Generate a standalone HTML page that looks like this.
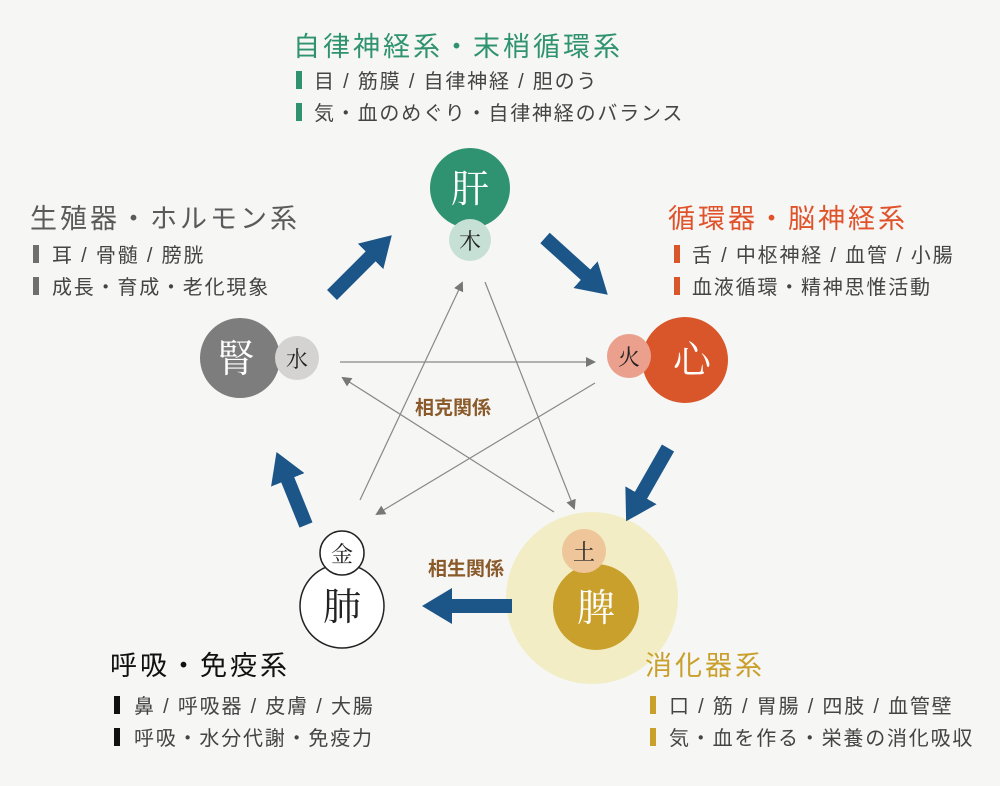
<!DOCTYPE html>
<html><head><meta charset="utf-8"><style>
html,body{margin:0;padding:0;background:#f6f6f5;}
svg{display:block;font-family:"Liberation Sans","Noto Sans CJK JP",sans-serif;}
.t{font-size:27px;letter-spacing:3px;}
.l{font-size:20px;letter-spacing:1.8px;fill:#444;}
</style></head><body>
<svg width="1000" height="786" viewBox="0 0 1000 786" xmlns="http://www.w3.org/2000/svg">
<defs>
<marker id="g" markerWidth="10" markerHeight="10" refX="8" refY="5" orient="auto" markerUnits="userSpaceOnUse"><path d="M0,0 L10,5 L0,10 z" fill="#777"/></marker>
<marker id="b" markerWidth="30" markerHeight="36" refX="2" refY="18" orient="auto" markerUnits="userSpaceOnUse"><path d="M0,0 L30,18 L0,36 z" fill="#1c5587"/></marker>
</defs>
<rect width="1000" height="786" fill="#f6f6f5"/>
<circle cx="592" cy="598" r="86" fill="#f2edc4"/>
<g stroke="#888" stroke-width="1.2" fill="none">
<line x1="485" y1="282" x2="574" y2="508" marker-end="url(#g)"/>
<line x1="360" y1="500" x2="462" y2="283" marker-end="url(#g)"/>
<line x1="340" y1="362" x2="594" y2="362" marker-end="url(#g)"/>
<line x1="595" y1="383" x2="377" y2="514" marker-end="url(#g)"/>
<line x1="554" y1="512" x2="343" y2="378" marker-end="url(#g)"/>
</g>
<g stroke="#1c5587" stroke-width="14" fill="none">
<line x1="332" y1="295" x2="372" y2="255" marker-end="url(#b)"/>
<line x1="545" y1="238" x2="587" y2="276" marker-end="url(#b)"/>
<line x1="668" y1="448" x2="640" y2="497" marker-end="url(#b)"/>
<line x1="512" y1="606" x2="450" y2="606" marker-end="url(#b)"/>
<line x1="306" y1="525" x2="287" y2="478" marker-end="url(#b)"/>
</g>
<circle cx="470" cy="188" r="40" fill="#2f9270"/>
<circle cx="470" cy="240" r="21" fill="#c7e0d6"/>
<text x="470" y="202" font-size="38" fill="#fff" text-anchor="middle" font-family="Noto Serif CJK SC,serif">肝</text>
<text x="470" y="249" font-size="22" fill="#222" text-anchor="middle" font-family="Noto Serif CJK SC,serif">木</text>
<circle cx="240" cy="358" r="40" fill="#7d7d7d"/>
<circle cx="297" cy="358" r="22" fill="#d4d3d2"/>
<text x="236" y="372" font-size="38" fill="#fff" text-anchor="middle" font-family="Noto Serif CJK SC,serif">腎</text>
<text x="297" y="367" font-size="22" fill="#222" text-anchor="middle" font-family="Noto Serif CJK SC,serif">水</text>
<circle cx="685" cy="360" r="43" fill="#d9562a"/>
<circle cx="629" cy="356" r="22" fill="#eba08e"/>
<text x="692" y="373" font-size="38" fill="#fff" text-anchor="middle" font-family="Noto Serif CJK SC,serif">心</text>
<text x="629" y="365" font-size="22" fill="#222" text-anchor="middle" font-family="Noto Serif CJK SC,serif">火</text>
<circle cx="596" cy="607" r="43" fill="#c9a02c"/>
<circle cx="584" cy="551" r="22" fill="#efc59a"/>
<text x="596" y="621" font-size="38" fill="#fff" text-anchor="middle" font-family="Noto Serif CJK SC,serif">脾</text>
<text x="584" y="560" font-size="22" fill="#222" text-anchor="middle" font-family="Noto Serif CJK SC,serif">土</text>
<circle cx="342" cy="606" r="42" fill="#fff" stroke="#222" stroke-width="1.5"/>
<circle cx="342" cy="553" r="22" fill="#fff" stroke="#222" stroke-width="1.5"/>
<text x="342" y="620" font-size="38" fill="#222" text-anchor="middle" font-family="Noto Serif CJK SC,serif">肺</text>
<text x="342" y="562" font-size="22" fill="#222" text-anchor="middle" font-family="Noto Serif CJK SC,serif">金</text>
<text x="453" y="414" font-size="19" font-weight="bold" fill="#8a5a2a" text-anchor="middle">相克関係</text>
<text x="466" y="575" font-size="19" font-weight="bold" fill="#8a5a2a" text-anchor="middle">相生関係</text>
<text class="t" x="293" y="56" fill="#2f9270">自律神経系・末梢循環系</text>
<rect x="296" y="71" width="6" height="18" fill="#2f9270"/><rect x="296" y="103" width="6" height="18" fill="#2f9270"/>
<text class="l" x="314" y="88">目 / 筋膜 / 自律神経 / 胆のう</text>
<text class="l" x="314" y="120">気・血のめぐり・自律神経のバランス</text>
<text class="t" x="30" y="228" fill="#5a5a5a">生殖器・ホルモン系</text>
<rect x="33" y="245" width="6" height="18" fill="#6e6e6e"/><rect x="33" y="277" width="6" height="18" fill="#6e6e6e"/>
<text class="l" x="52" y="262">耳 / 骨髄 / 膀胱</text>
<text class="l" x="52" y="294">成長・育成・老化現象</text>
<text class="t" x="668" y="228" fill="#e0532a">循環器・脳神経系</text>
<rect x="674" y="245" width="6" height="18" fill="#d9562a"/><rect x="674" y="277" width="6" height="18" fill="#d9562a"/>
<text class="l" x="692" y="262">舌 / 中枢神経 / 血管 / 小腸</text>
<text class="l" x="692" y="294">血液循環・精神思惟活動</text>
<text class="t" x="110" y="675" fill="#111">呼吸・免疫系</text>
<rect x="114" y="696" width="6" height="18" fill="#111"/><rect x="114" y="728" width="6" height="18" fill="#111"/>
<text class="l" x="134" y="713">鼻 / 呼吸器 / 皮膚 / 大腸</text>
<text class="l" x="134" y="745">呼吸・水分代謝・免疫力</text>
<text class="t" x="645" y="675" fill="#c9a02c">消化器系</text>
<rect x="650" y="696" width="6" height="18" fill="#c9a02c"/><rect x="650" y="728" width="6" height="18" fill="#c9a02c"/>
<text class="l" x="669" y="713">口 / 筋 / 胃腸 / 四肢 / 血管壁</text>
<text class="l" x="669" y="745">気・血を作る・栄養の消化吸収</text>
</svg>
</body></html>
